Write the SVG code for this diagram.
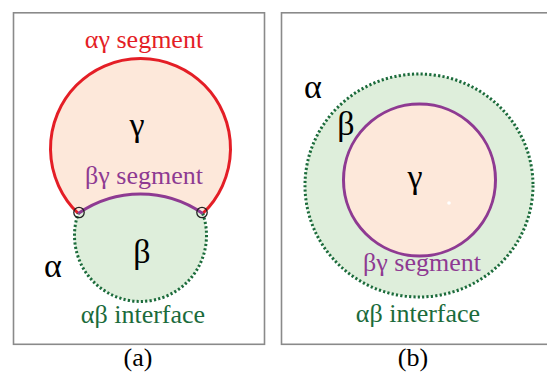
<svg xmlns="http://www.w3.org/2000/svg" width="547" height="372" viewBox="0 0 547 372">
<style>
.frame{fill:none;stroke:#8a8a8a;stroke-width:1.6}
text{font-family:"Liberation Serif","Times New Roman",serif;text-anchor:middle}
.lbl{font-size:26px}
.sym{font-size:34px;fill:#000}
.red{fill:#e41e26}
.pur{fill:#8e3a92}
.grn{fill:#1b6b3b}
.gfill{fill:#deeedb}
.pfill{fill:#fde8da}
.dot{fill:none;stroke:#1b6b3b;stroke-width:3;stroke-dasharray:2.2 2.2}
.pstroke{fill:none;stroke:#8e3a92;stroke-width:3}
.rstroke{fill:none;stroke:#e41e26;stroke-width:3}
</style>
<rect fill="#fff" x="0" y="0" width="547" height="372"/>
<g id="panel-a">
  <rect class="frame" x="13.5" y="12.8" width="251" height="331.5"/>
  <g id="gamma-a">
    <path class="pfill" d="M78.25,213.5 A90,90 0 1 1 202.75,213.5 A109.1,109.1 0 0 0 78.25,213.5 Z"/>
  </g>
  <g id="beta-a">
    <path class="gfill" d="M78.25,213.5 A109.1,109.1 0 0 1 202.75,213.5 A66,66 0 1 1 78.25,213.5 Z"/>
  </g>
  <g id="connectors-a">
    <path class="rstroke" d="M78.25,213.5 A90,90 0 1 1 202.75,213.5"/>
    <path class="dot" d="M202.75,213.5 A66,66 0 1 1 78.25,213.5"/>
    <path class="pstroke" d="M78.25,213.5 A109.1,109.1 0 0 1 202.75,213.5"/>
    <circle cx="79" cy="212.5" r="5.2" fill="none" stroke="#222" stroke-width="1.3"/>
    <circle cx="202" cy="212.5" r="5.2" fill="none" stroke="#222" stroke-width="1.3"/>
  </g>
  <text class="lbl red" x="144" y="48">αγ segment</text>
  <text class="lbl pur" x="144" y="184">βγ segment</text>
  <text class="lbl grn" x="143" y="323">αβ interface</text>
  <text class="sym" x="137" y="136" font-size="31">γ</text>
  <text class="sym" x="142" y="263">β</text>
  <text class="sym" x="53" y="277">α</text>
  <text x="138" y="366" font-size="26">(a)</text>
</g>
<g id="panel-b">
  <rect class="frame" x="281.5" y="12.8" width="275" height="331.5"/>
  <g id="beta-b">
    <ellipse class="gfill" cx="419" cy="185.5" rx="114" ry="111.5"/>
    <ellipse class="dot" cx="419" cy="185.5" rx="114" ry="111.5"/>
  </g>
  <g id="gamma-b">
    <circle class="pfill" cx="419.5" cy="180" r="76"/>
    <circle class="pstroke" cx="419.5" cy="180" r="76"/>
    <circle cx="449" cy="203" r="1.8" fill="#fff"/>
  </g>
  <text class="lbl pur" x="422" y="271">βγ segment</text>
  <text class="lbl grn" x="418" y="322">αβ interface</text>
  <text class="sym" x="415" y="188" font-size="36">γ</text>
  <text class="sym" x="346" y="135">β</text>
  <text class="sym" x="313" y="98">α</text>
  <text x="413" y="366" font-size="26">(b)</text>
</g>
</svg>
